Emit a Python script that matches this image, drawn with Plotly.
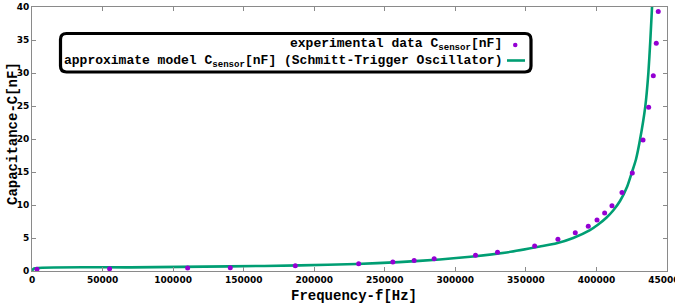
import plotly.graph_objects as go

# ---- data ----
exp_freq = [500, 3500, 55000, 110300, 140500, 186600, 231500, 255700, 270800, 285000,
            314300, 329900, 356200, 372700, 385000, 394200, 400400, 405800, 411000,
            418100, 425400, 433000, 437000, 440300, 442400, 443800]
exp_cap = [-0.1, 0.25, 0.35, 0.45, 0.5, 0.8, 1.1, 1.36, 1.6, 1.87,
           2.38, 2.83, 3.79, 4.8, 5.8, 6.77, 7.73, 8.79, 9.9,
           11.9, 14.85, 19.85, 24.8, 29.6, 34.5, 39.3]

model_freq = [0, 1500, 70000, 140000, 190000, 230000, 260000, 289000, 312600, 336300,
              359900, 371800, 383500, 395400, 401000, 407200, 412000, 416700, 421800,
              424900, 428000, 430800, 434600, 436800, 438200, 439400]
model_cap = [0.05, 0.38, 0.55, 0.7, 0.85, 1.05, 1.35, 1.75, 2.2, 2.8,
             3.7, 4.2, 5.0, 6.2, 7.0, 8.1, 9.2, 10.6, 12.8,
             14.8, 16.9, 19.8, 24.9, 30.0, 35.0, 40.0]

x_ticks = [0, 50000, 100000, 150000, 200000, 250000, 300000, 350000, 400000, 450000]
y_ticks = [0, 5, 10, 15, 20, 25, 30, 35, 40]

legend_labels = ["experimental data C<sub>sensor</sub>[nF]",
                 "approximate model C<sub>sensor</sub>[nF] (Schmitt-Trigger Oscillator)"]

PURPLE = "#9400D3"
GREEN = "#009E73"

W, H = 675, 307
ML, MR, MT, MB = 32, 8, 7, 36
PW, PH = W - ML - MR, H - MT - MB


def px(x):
    return (x - ML) / PW


def py(y):
    return (H - MB - y) / PH


fig = go.Figure()
fig.add_trace(go.Scatter(x=model_freq, y=model_cap, mode="lines",
                         line=dict(color=GREEN, width=2.6, shape="spline", smoothing=0.6),
                         cliponaxis=True, showlegend=False, hoverinfo="skip"))
fig.add_trace(go.Scatter(x=exp_freq, y=exp_cap, mode="markers",
                         marker=dict(color=PURPLE, size=5),
                         cliponaxis=False, showlegend=False))

# rounded legend box
x0, x1, y0, y1, r = 60.5, 531, 33.5, 72, 6
path = (f"M {px(x0 + r)},{py(y0)} L {px(x1 - r)},{py(y0)} "
        f"Q {px(x1)},{py(y0)} {px(x1)},{py(y0 + r)} L {px(x1)},{py(y1 - r)} "
        f"Q {px(x1)},{py(y1)} {px(x1 - r)},{py(y1)} L {px(x0 + r)},{py(y1)} "
        f"Q {px(x0)},{py(y1)} {px(x0)},{py(y1 - r)} L {px(x0)},{py(y0 + r)} "
        f"Q {px(x0)},{py(y0)} {px(x0 + r)},{py(y0)} Z")
shapes = [
    dict(type="path", xref="paper", yref="paper", path=path,
         line=dict(color="black", width=3.2), fillcolor="white", layer="above"),
    dict(type="line", xref="paper", yref="paper", x0=px(507), x1=px(525),
         y0=py(60.5), y1=py(60.5), line=dict(color=GREEN, width=2.6), layer="above"),
    dict(type="circle", xref="paper", yref="paper", x0=px(513), x1=px(517.5),
         y0=py(42.8), y1=py(47.3), line=dict(color=PURPLE, width=0),
         fillcolor=PURPLE, layer="above"),
]

mono = dict(family="Liberation Mono", size=13, color="black", weight="bold")
annotations = [
    dict(xref="paper", yref="paper", x=px(503), y=py(45), xanchor="right", yanchor="middle",
         text=legend_labels[0], showarrow=False, font=mono, borderpad=0),
    dict(xref="paper", yref="paper", x=px(503), y=py(61), xanchor="right", yanchor="middle",
         text=legend_labels[1], showarrow=False, font=mono, borderpad=0),
    dict(xref="paper", yref="paper", x=px(354), y=py(296), xanchor="center", yanchor="middle",
         text="Frequency-f[Hz]", showarrow=False,
         font=dict(family="Liberation Mono", size=14, color="black", weight="bold")),
    dict(xref="paper", yref="paper", x=px(13), y=py(134), xanchor="center", yanchor="middle",
         text="Capacitance-C[nF]", showarrow=False, textangle=-90,
         font=dict(family="Liberation Mono", size=14, color="black", weight="bold")),
]

tickfont = dict(family="DejaVu Sans", size=9, color="black", weight="bold")
axis_common = dict(showgrid=False, zeroline=False, showline=True, linecolor="#8a8a8a",
                   linewidth=1, mirror="ticks", ticks="inside", ticklen=4,
                   tickcolor="#8a8a8a", tickfont=tickfont, automargin=False)

fig.update_layout(
    width=W, height=H, margin=dict(l=ML, r=MR, t=MT, b=MB, pad=0, autoexpand=False),
    paper_bgcolor="white", plot_bgcolor="white",
    xaxis=dict(range=[0, 450000], tickvals=x_ticks, ticktext=[str(v) for v in x_ticks],
               ticklabeloverflow="allow", **axis_common),
    yaxis=dict(range=[0, 40], tickvals=y_ticks, ticktext=[str(v) for v in y_ticks],
               ticklabeloverflow="allow", **axis_common),
    shapes=shapes, annotations=annotations, showlegend=False,
)

fig.write_html("out.html", config={"displayModeBar": False}, post_script=(
    "document.body.style.margin='0';document.body.style.padding='0';"
    "document.body.style.overflow='hidden';"))
